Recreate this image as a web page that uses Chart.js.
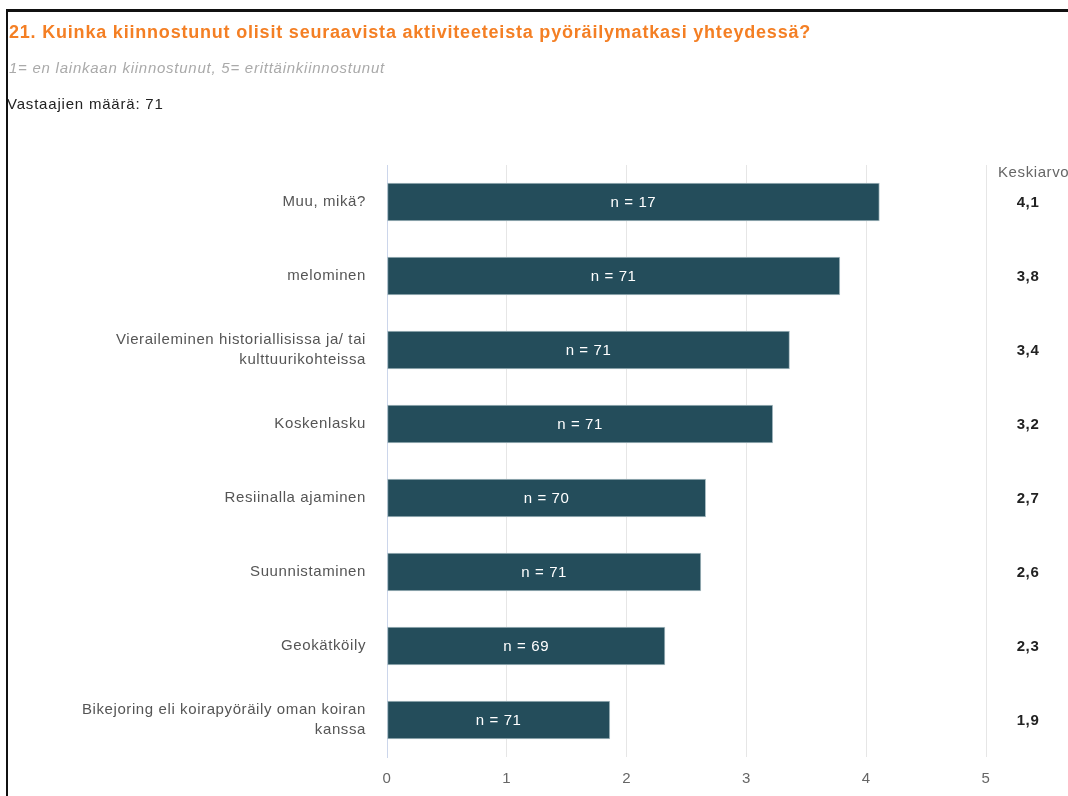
<!DOCTYPE html>
<html>
<head>
<meta charset="utf-8">
<script src="https://cdn.jsdelivr.net/npm/chart.js@4"></script>
<style>
  html, body { margin: 0; padding: 0; background: #fff; overflow: hidden; }
  #wrap { position: relative; width: 1068px; height: 796px; overflow: hidden; }
  #frame { position: absolute; left: 6px; top: 9px; width: 1062px; height: 787px;
           border-top: 3px solid #111; border-left: 2px solid #111; box-sizing: border-box; pointer-events: none; z-index: 2; }
  .txt { position: absolute; font-family: "Liberation Sans", Arial, sans-serif; white-space: nowrap; z-index: 1; line-height: 20px; letter-spacing: 0.6px; }
  #title { left: 9px; top: 22px; font-size: 18px; font-weight: bold; color: #f47f24; letter-spacing: 0.8px; }
  #sub { left: 9px; top: 58px; font-size: 15px; font-style: italic; color: #aaaaaa; letter-spacing: 0.75px; }
  #resp { left: 7px; top: 94px; font-size: 15px; color: #222; letter-spacing: 0.8px; }
  #hdr { left: 998px; top: 162px; font-size: 15px; color: #666; }
  canvas { position: absolute; left: 0; top: 0; }
</style>
</head>
<body>
<div id="wrap">
  <canvas id="c" width="1068" height="796"></canvas>
  <div id="frame"></div>
  <div class="txt" id="title">21. Kuinka kiinnostunut olisit seuraavista aktiviteeteista pyöräilymatkasi yhteydessä?</div>
  <div class="txt" id="sub">1= en lainkaan kiinnostunut, 5= erittäinkiinnostunut</div>
  <div class="txt" id="resp">Vastaajien määrä: 71</div>
  <div class="txt" id="hdr">Keskiarvo</div>
</div>
<script>
const categories = [
  'Muu, mikä?',
  'melominen',
  ['Vieraileminen historiallisissa ja/ tai', 'kulttuurikohteissa'],
  'Koskenlasku',
  'Resiinalla ajaminen',
  'Suunnistaminen',
  'Geokätköily',
  ['Bikejoring eli koirapyöräily oman koiran', 'kanssa']
];
const averages = [4.11, 3.78, 3.36, 3.22, 2.66, 2.62, 2.32, 1.86];
const counts = [17, 71, 71, 71, 70, 71, 69, 71];
const xTicks = [0, 1, 2, 3, 4, 5];

const FONT = '"Liberation Sans", Arial, sans-serif';
const FS = 15;
const LS = '0.6px';

const spacingPlugin = {
  id: 'spacing',
  beforeInit(chart) { chart.ctx.letterSpacing = LS; },
  beforeUpdate(chart) { chart.ctx.letterSpacing = LS; },
  beforeDraw(chart) { chart.ctx.letterSpacing = LS; }
};

const labelPlugin = {
  id: 'labels',
  afterDatasetsDraw(chart) {
    const ctx = chart.ctx;
    const meta = chart.getDatasetMeta(0);
    ctx.save();
    ctx.letterSpacing = LS;
    meta.data.forEach((bar, i) => {
      const cx = (bar.base + bar.x) / 2;
      ctx.font = FS + 'px ' + FONT;
      ctx.fillStyle = '#ffffff';
      ctx.textAlign = 'center';
      ctx.textBaseline = 'middle';
      ctx.fillText('n = ' + counts[i], cx, bar.y + 1);
      ctx.font = 'bold ' + FS + 'px ' + FONT;
      ctx.fillStyle = '#222';
      const v = (Math.round(averages[i] * 10) / 10).toFixed(1).replace('.', ',');
      ctx.fillText(v, 1028, bar.y + 1);
    });
    ctx.restore();
  }
};

new Chart(document.getElementById('c'), {
  type: 'bar',
  data: {
    labels: categories,
    datasets: [{
      data: averages,
      backgroundColor: '#244d5b',
      borderColor: '#a9bcc2',
      borderWidth: 1,
      borderSkipped: false,
      barThickness: 38
    }]
  },
  options: {
    indexAxis: 'y',
    responsive: false,
    animation: false,
    devicePixelRatio: 1,
    layout: { padding: { left: 0, top: 165, right: 82, bottom: 0 } },
    plugins: { legend: { display: false }, tooltip: { enabled: false }, title: { display: false } },
    scales: {
      x: {
        min: 0, max: 5,
        afterBuildTicks(axis) { axis.ticks = xTicks.map(v => ({ value: v })); },
        afterFit(axis) { axis.height = 39; },
        grid: {
          drawTicks: false,
          color: ctx => ctx.index === 0 ? '#ccd6eb' : '#e6e6e6',
          lineWidth: 1
        },
        border: { display: false },
        ticks: { padding: 13, color: '#666', font: { family: FONT, size: FS } }
      },
      y: {
        afterFit(axis) { axis.width = 387; },
        grid: { display: false, drawTicks: false },
        border: { display: true, color: '#ccd6eb', width: 1 },
        ticks: { padding: 21, color: '#555', font: { family: FONT, size: FS, lineHeight: 20 / FS } }
      }
    }
  },
  plugins: [spacingPlugin, labelPlugin]
});
</script>
</body>
</html>
